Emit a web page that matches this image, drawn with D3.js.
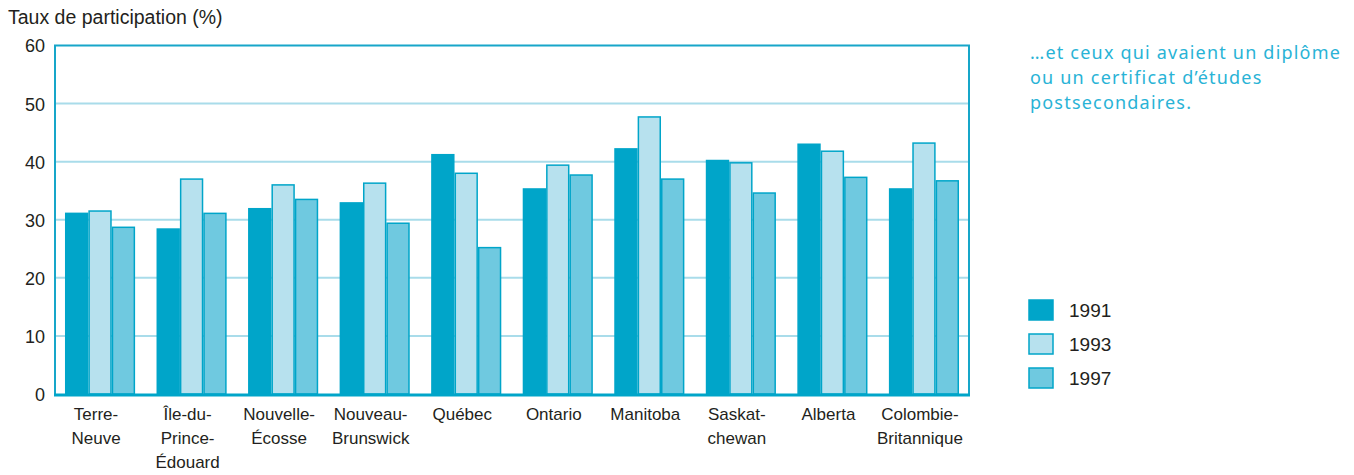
<!DOCTYPE html>
<html><head><meta charset="utf-8">
<script src="https://cdn.jsdelivr.net/npm/d3@7"></script>
<style>
html,body{margin:0;padding:0;background:#fff;}
svg{display:block;}
.t{font-family:"Liberation Sans Narrow","Arial Narrow",sans-serif;fill:#231f20;}
.note{font-family:"Noto Sans","DejaVu Sans",sans-serif;fill:#29b3d6;}
</style></head><body>
<svg id="c" width="1354" height="475"></svg>
<script>
const provinces = [["Terre-","Neuve"],["Île-du-","Prince-","Édouard"],["Nouvelle-","Écosse"],["Nouveau-","Brunswick"],["Québec"],["Ontario"],["Manitoba"],["Saskat-","chewan"],["Alberta"],["Colombie-","Britannique"]];
const years = ["1991","1993","1997"];
const v1991 = [31.1, 28.4, 31.9, 32.9, 41.2, 35.3, 42.2, 40.2, 43.0, 35.3];
const v1993 = [31.5, 37.0, 36.0, 36.3, 38.0, 39.4, 47.7, 39.8, 41.8, 43.2];
const v1997 = [28.7, 31.1, 33.5, 29.4, 25.2, 37.7, 37.0, 34.6, 37.3, 36.7];
const yTicks = [0,10,20,30,40,50,60];
const yTitle = "Taux de participation (%)";
const noteLines = ["…et ceux qui avaient un diplôme","ou un certificat d’études","postsecondaires."];

const series = [v1991, v1993, v1997];
const fills = ["#00a5c9", "#b7e1ee", "#6fc9e0"];
const stroke = "#00a5c9";

const svg = d3.select("#c");
const L = 55, R = 969, T = 45.5, B = 394;
const x0 = d3.scaleBand().domain(d3.range(provinces.length)).range([L, R]).paddingInner(0.234).paddingOuter(0.109);
const x1 = d3.scaleBand().domain(d3.range(years.length)).range([0, x0.bandwidth()]);
const y = d3.scaleLinear().domain([0, 60]).range([B, T]);

// gridlines
svg.append("g").selectAll("line").data(yTicks.filter(d => d > 0 && d < 60)).join("line")
  .attr("x1", L).attr("x2", R).attr("y1", d => y(d)).attr("y2", d => y(d))
  .attr("stroke", "#a9dcea").attr("stroke-width", 2);

// frame
svg.append("path").attr("d", `M${L},${B} V${y(60)} H${R} V${B}`)
  .attr("fill", "none").attr("stroke", "#17a6c9").attr("stroke-width", 2);

// bars
const g = svg.append("g");
provinces.forEach((p, i) => {
  series.forEach((s, k) => {
    g.append("rect")
      .attr("x", x0(i) + x1(k) + 0.75)
      .attr("y", y(s[i]))
      .attr("width", x1.bandwidth() - 1.5)
      .attr("height", B - y(s[i]))
      .attr("fill", fills[k]).attr("stroke", stroke).attr("stroke-width", 1.5);
  });
});

// bottom axis line
svg.append("line").attr("x1", L - 1).attr("x2", R + 1).attr("y1", B + 1).attr("y2", B + 1)
  .attr("stroke", "#00a5c9").attr("stroke-width", 3);

// y axis labels
const yAxis = d3.axisLeft(y).tickValues(yTicks).tickSize(0).tickPadding(0);
const ya = svg.append("g").attr("transform", `translate(45,0)`).call(yAxis);
ya.select(".domain").remove();
ya.selectAll("text").attr("class", "t").attr("fill", "#231f20").style("font-size", "18px")
  .attr("dy", "0.36em");

// y title
svg.append("text").attr("class", "t").attr("x", 8).attr("y", 24).style("font-size", "19.5px").text(yTitle);

// x labels
provinces.forEach((p, i) => {
  const cx = x0(i) + x0.bandwidth() / 2 - 4;
  const t = svg.append("text").attr("class", "t").attr("text-anchor", "middle").style("font-size", "17px");
  p.forEach((line, j) => {
    t.append("tspan").attr("x", cx).attr("y", 420 + j * 24).text(line);
  });
});

// note
noteLines.forEach((l, j) => {
  svg.append("text").attr("class", "note").attr("x", 1030).attr("y", 59 + j * 25)
    .style("font-size", "18px").style("letter-spacing", "1.2px").text(l);
});

// legend
years.forEach((yr, k) => {
  const yy = 300 + k * 34;
  svg.append("rect").attr("x", 1029).attr("y", yy).attr("width", 24).attr("height", 20)
    .attr("fill", fills[k]).attr("stroke", stroke).attr("stroke-width", 1.5);
  svg.append("text").attr("class", "t").attr("x", 1069).attr("y", yy + 17).style("font-size", "19px").text(yr);
});
</script>
</body></html>
